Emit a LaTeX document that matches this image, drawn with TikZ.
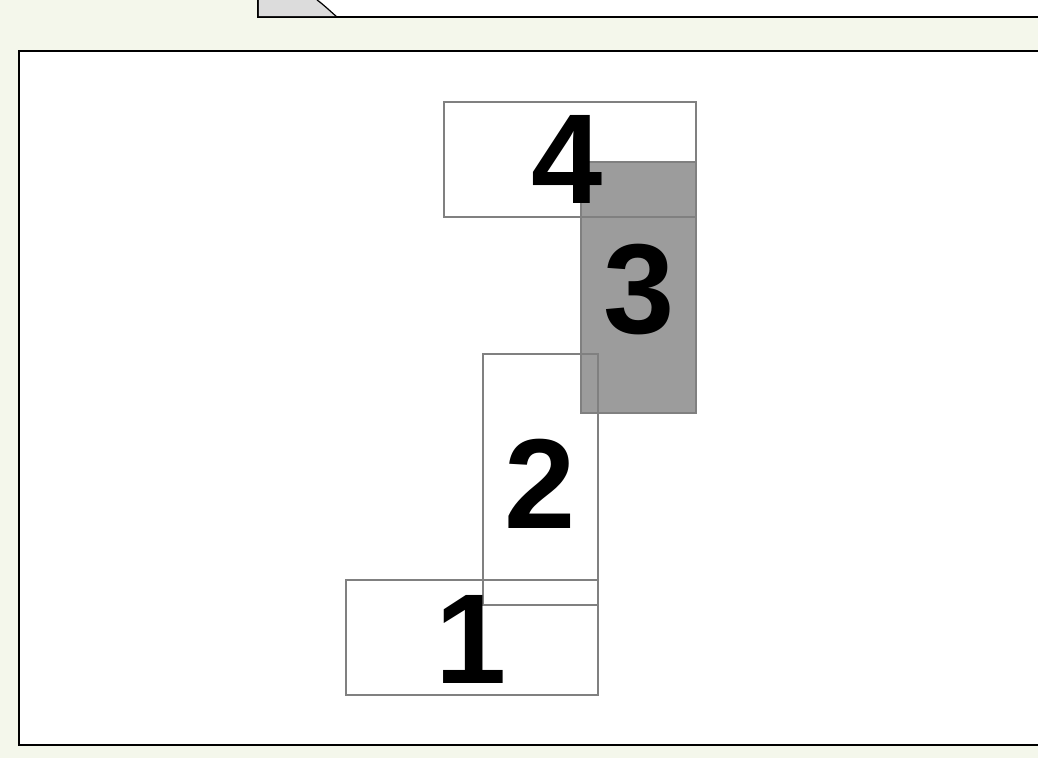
\documentclass[tikz,border=0pt]{standalone}
\usepackage{fontspec}
\setmainfont{Liberation Sans}
\definecolor{bgg}{HTML}{F4F7EB}
\definecolor{boxline}{HTML}{808080}
\definecolor{boxfill}{HTML}{9C9C9C}
\definecolor{lightg}{HTML}{DCDCDC}
\tikzset{
  frame/.style={draw=black, line width=1.6pt, fill=white},
  area/.style={draw=boxline, line width=1.3pt},
  digit/.style={font=\fontsize{128}{128}\selectfont\bfseries, anchor=base, inner sep=0pt}
}
\begin{document}
\begin{tikzpicture}[x=1pt,y=-1pt]
\useasboundingbox (0,0) rectangle (1038,758);
\fill[bgg] (0,0) rectangle (1038,758);
% top strip
\draw[frame] (258,-5) rectangle (1045,17);
\fill[lightg] (258.8,-2) -- (258.8,16.2) -- (336,16.2) .. controls (328,9) and (322,3) .. (317,-2) -- cycle;
\draw[black, line width=1.2pt] (317,0) .. controls (324,5) and (330,11) .. (337,17);
% main frame
\draw[frame] (19,51) rectangle (1045,745);
% areas
\fill[boxfill] (581,162) rectangle (696,413);
\draw[area] (581,162) rectangle (696,413);
\draw[area] (444,102) rectangle (696,217);
\draw[area] (483,354) rectangle (598,605);
\draw[area] (346,580) rectangle (598,695);
% digits
\node[digit] (n4) at (567,203) {4};
\node[digit] (n3) at (639,333) {3};
\node[digit] (n2) at (540,528) {2};
\node[digit] (n1) at (471,683) {1};
\end{tikzpicture}
\end{document}
